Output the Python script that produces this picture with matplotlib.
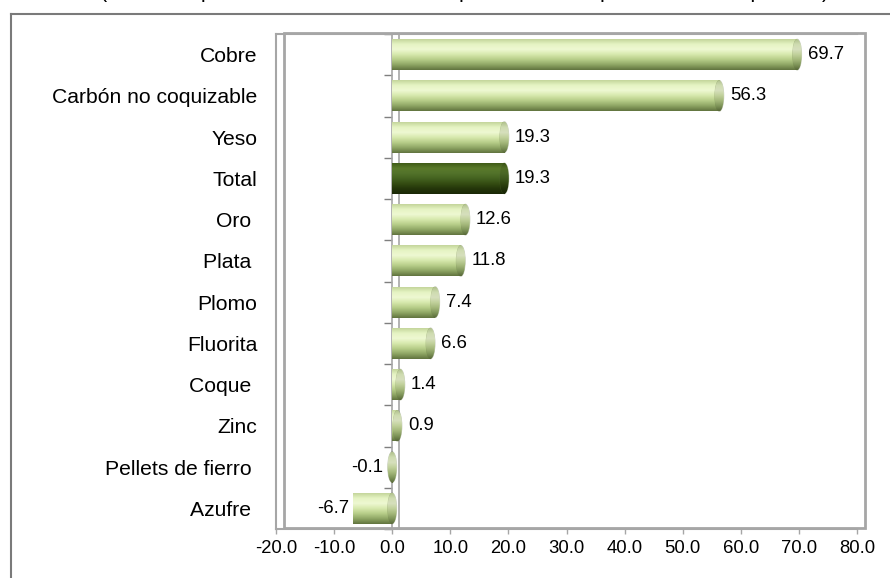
import numpy as np
import matplotlib.pyplot as plt
import matplotlib.transforms as mtransforms
from matplotlib.patches import Rectangle, Ellipse
from matplotlib.lines import Line2D

plt.rcParams['font.family'] = ['Liberation Sans', 'DejaVu Sans']

# datos: variacion porcentual por producto
productos = ["Cobre", "Carbón no coquizable", "Yeso", "Total", "Oro ", "Plata ",
             "Plomo", "Fluorita", "Coque ", "Zinc", "Pellets de fierro ", "Azufre "]
variacion = [69.7, 56.3, 19.3, 19.3, 12.6, 11.8, 7.4, 6.6, 1.4, 0.9, -0.1, -6.7]
destacado = "Total"

x_ticks = list(range(-20, 81, 10))
titulo = "(Variación porcentual del volumen de producción respecto al mismo periodo)"

# gradientes (de arriba hacia abajo)
claro = ["#c4d69c", "#e6f4c4", "#eef8d2", "#d6e8ac", "#b6cc88", "#8ea664", "#62743f"]
oscuro = ["#405c18", "#5a7a2a", "#52722a", "#446220", "#344c12", "#24360a", "#1a2806"]


def gradiente(stops, n=64):
    cols = np.array([[int(c[i:i + 2], 16) / 255 for i in (1, 3, 5)] for c in stops])
    pos = np.linspace(0, 1, len(stops))
    t = np.linspace(0, 1, n)
    g = np.stack([np.interp(t, pos, cols[:, k]) for k in range(3)], axis=1)
    return g[:, None, :]


fig = plt.figure(figsize=(8.9, 5.78), dpi=100)
ax = fig.add_axes([276 / 890, 1 - 529 / 578, 581 / 890, 495 / 578])

n = len(productos)
y = np.arange(n)
alto = 0.75
xmin, xmax = -20, 80
px_por_unidad = 581 / (xmax - xmin)
ancho_tapa = 9 / px_por_unidad

ax.set_xlim(xmin, xmax)
ax.set_ylim(n - 0.5, -0.5)

barras = ax.barh(y, variacion, height=alto, color="none", edgecolor="none", zorder=3)

for rect, v, nombre in zip(barras, variacion, productos):
    g = gradiente(oscuro if nombre == destacado else claro)
    yc = rect.get_y() + alto / 2
    x0 = min(0, v)
    x1 = max(0, v)
    # cuerpo del cilindro
    cuerpo = Rectangle((x0, yc - alto / 2), x1 - x0, alto, transform=ax.transData,
                       facecolor="none", edgecolor="none")
    ax.add_patch(cuerpo)
    im = ax.imshow(g, extent=(x0, x1, yc + alto / 2, yc - alto / 2),
                   aspect="auto", zorder=3, interpolation="bilinear")
    im.set_clip_path(cuerpo)
    # tapa derecha
    tapa = Ellipse((x1, yc), ancho_tapa, alto, transform=ax.transData,
                   facecolor="none", edgecolor=(0.35, 0.42, 0.22, 0.35), linewidth=0.6, zorder=4)
    ax.add_patch(tapa)
    im3 = ax.imshow(g * 0.9, extent=(x1 - ancho_tapa, x1 + ancho_tapa, yc + alto / 2, yc - alto / 2),
                    aspect="auto", zorder=4, interpolation="bilinear")
    im3.set_clip_path(tapa)

    if v >= 0:
        ax.annotate(f"{v:.1f}", (v, yc), xytext=(7.6, 0), textcoords="offset points",
                    ha="left", va="center", fontsize=13.3, color="black", zorder=6)
    else:
        borde = min(v, -ancho_tapa / 2)
        ax.annotate(f"{v:.1f}", (borde, yc), xytext=(-3.2, 0), textcoords="offset points",
                    ha="right", va="center", fontsize=13.3, color="black", zorder=6)

ax.set_xlim(xmin, xmax)
ax.set_ylim(n - 0.5, -0.5)

# ejes
gris = "#a6a6a6"
ax.set_xticks(x_ticks)
ax.set_xticklabels([f"{t:.1f}" for t in x_ticks], fontsize=13.3)
ax.tick_params(axis="x", direction="out", length=3.6, width=1, color=gris, pad=4.5)
ax.set_yticks(y)
ax.set_yticklabels(productos, fontsize=15.2)
ax.tick_params(axis="y", length=0, pad=13.5)
ax.spines["right"].set_visible(False)
for s in ["left", "bottom", "top"]:
    ax.spines[s].set_color(gris)
    ax.spines[s].set_linewidth(1.5)

# pared del fondo (desplazada)
fondo = mtransforms.offset_copy(ax.transAxes, fig=fig, x=8, y=1, units="dots")
ax.add_patch(Rectangle((0, 0), 1.0, 1.0, transform=fondo, facecolor="none",
                       edgecolor=gris, linewidth=2, clip_on=False, zorder=1))
ax.axvline(0, color=gris, lw=1.2, zorder=1)
linea_fondo = Line2D([0, 0], [0, 1], color=gris, lw=1.2, zorder=1,
                     transform=mtransforms.offset_copy(ax.get_xaxis_transform(), fig=fig,
                                                       x=7, units="dots"))
ax.add_line(linea_fondo)

# eje de categorias en cero con marcas entre categorias
sec = ax.secondary_yaxis(0.2)
sec.set_yticks(np.arange(n + 1) - 0.5)
sec.set_yticklabels([])
sec.tick_params(direction="out", length=5.5, width=1, color="#7f7f7f")
sec.spines["left"].set_visible(False)

# marco exterior del grafico
fig.add_artist(Line2D([11 / 890, 11 / 890], [0, 1 - 14 / 578], transform=fig.transFigure,
                      color="#7a7a7a", lw=1.5))
fig.add_artist(Line2D([11 / 890, 1], [1 - 14 / 578, 1 - 14 / 578], transform=fig.transFigure,
                      color="#7a7a7a", lw=1.5))

# titulo (recortado en el borde superior, como en la imagen original)
fig.text(465 / 890, 1.0 + 2.5 / 578, titulo, ha="center", va="baseline", fontsize=15.5)

fig.savefig("out.png", dpi=100)
